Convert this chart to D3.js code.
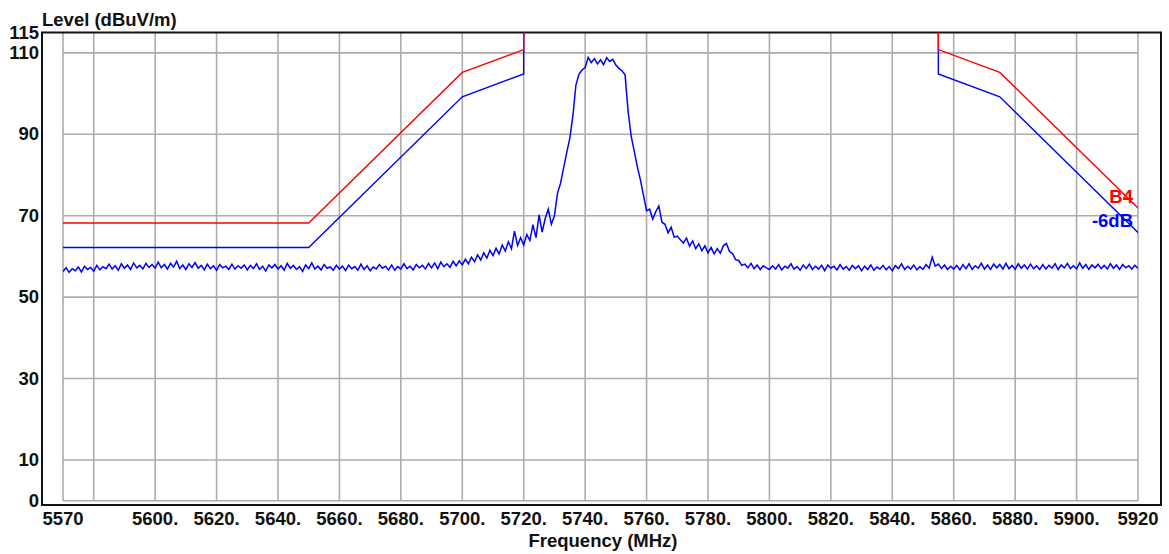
<!DOCTYPE html>
<html>
<head>
<meta charset="utf-8">
<script src="https://cdn.jsdelivr.net/npm/d3@7"></script>
<style>
    body { margin: 0; background: #fff; }
    text { font-family: "Liberation Sans", Arial, sans-serif; font-weight: bold; }
</style>
</head>
<body>
<div id="chart"></div>
<script>
// sweep from 5570 to 5920 MHz, one reading per MHz
const sweepStart = 5570;
const sweepStop = 5920;
const traceLevel = [
    // 5570 - 5599
    56.3, 57.2, 56.1, 57.0, 56.5, 57.4, 56.2, 57.6, 56.8, 57.3,
    56.4, 57.8, 56.7, 57.5, 57.0, 58.1, 56.9, 57.7, 56.6, 58.2,
    57.1, 57.9, 56.8, 58.4, 57.2, 57.8, 56.9, 58.3, 57.3, 58.0,
    // 5600 - 5629
    57.1, 58.6, 57.2, 58.0, 56.9, 58.3, 57.4, 58.8, 57.0, 57.9,
    56.8, 58.2, 57.3, 58.5, 57.1, 57.8, 56.7, 58.1, 57.0, 57.7,
    56.6, 58.0, 57.2, 57.6, 56.8, 58.1, 56.9, 57.7, 57.1, 57.9,
    // 5630 - 5659
    56.7, 57.8, 57.0, 58.2, 56.8, 57.6, 56.4, 57.9, 57.2, 58.0,
    56.9, 57.7, 56.6, 58.3, 57.1, 57.8, 56.8, 57.5, 56.3, 57.9,
    57.0, 58.4, 56.9, 57.6, 56.7, 58.0, 57.1, 57.4, 56.6, 57.8,
    // 5660 - 5689
    56.9, 57.6, 56.5, 57.9, 57.0, 57.5, 56.6, 58.1, 56.8, 57.7,
    56.5, 57.4, 56.9, 58.0, 57.1, 57.6, 56.7, 57.9, 56.6, 57.5,
    56.9, 58.2, 57.0, 57.6, 56.7, 58.0, 57.2, 57.8, 56.9, 58.3,
    // 5690 - 5699
    57.2, 58.4, 57.0, 58.6, 57.5, 58.2, 57.3, 58.8, 57.7, 58.9,
    // 5700 - 5719
    57.9, 59.3, 58.2, 59.8, 58.7, 60.4, 59.1, 60.9, 59.6, 61.5,
    60.2, 62.0, 60.6, 62.8, 61.3, 63.6, 61.9, 66.2, 62.7, 64.6,
    // 5720 - 5730
    62.8, 65.4, 63.9, 67.8, 64.6, 70.2, 66.0, 69.3, 71.6, 67.9, 70.0,
    // 5731 - 5760
    75.5, 78.0, 81.8, 85.5, 89.0, 94.5, 102.1, 104.8, 105.8, 106.4,
    108.9, 107.6, 108.6, 107.3, 108.3, 107.1, 108.8, 107.9, 108.4, 107.0,
    106.2, 105.6, 104.6, 95.5, 89.5, 85.8, 82.0, 78.8, 75.0, 71.2,
    // 5761 - 5799
    71.6, 69.2, 71.0, 72.4, 68.4, 67.9, 65.8, 67.2, 64.7, 65.0,
    64.1, 63.3, 64.5, 62.5, 63.8, 61.9, 63.1, 61.4, 62.6, 60.9,
    62.2, 60.6, 61.9, 60.8, 62.6, 63.2, 61.2, 60.7, 59.2, 59.0,
    57.8, 58.1, 57.2, 58.3, 57.0, 57.9, 56.8, 57.7, 57.2,
    // 5800 - 5829
    56.8, 57.7, 56.9, 58.0, 56.7, 57.6, 57.1, 58.2, 56.9, 57.5,
    56.6, 57.9, 57.0, 58.1, 56.8, 57.6, 56.9, 57.8, 56.5, 57.9,
    57.1, 57.6, 56.7, 58.0, 56.9, 57.5, 56.6, 57.8, 57.0, 57.7,
    // 5830 - 5859
    56.5, 57.6, 56.8, 57.9, 56.6, 57.4, 56.9, 57.8, 56.7, 57.5,
    56.5, 57.7, 57.0, 58.2, 56.8, 57.6, 56.9, 57.9, 56.7, 57.5,
    56.8, 58.0, 57.1, 59.8, 57.6, 58.1, 57.0, 57.9, 56.8, 57.6,
    // 5860 - 5889
    56.9, 57.8, 56.7, 58.0, 57.0, 58.2, 56.8, 57.7, 57.1, 58.3,
    56.9, 57.9, 56.8, 58.1, 57.2, 58.0, 56.9, 58.3, 57.0, 57.8,
    56.8, 58.2, 57.1, 57.9, 56.9, 58.1, 57.0, 57.7, 56.8, 58.0,
    // 5890 - 5920
    56.9, 57.8, 57.1, 58.2, 56.8, 57.9, 57.2, 58.3, 57.0, 57.7,
    56.9, 58.4, 57.1, 58.0, 56.8, 57.9, 57.2, 58.1, 57.0, 57.8,
    56.9, 58.2, 57.1, 57.9, 56.8, 58.0, 57.2, 57.7, 56.9, 57.8, 57.1
];

// limit line B4 (lower and upper band edge) and its -6dB copy
const limitLowFreq = [5570, 5650, 5700, 5720, 5720];
const limitLowB4 = [68.2, 68.2, 105.2, 110.8, 122.2];
const limitLowM6 = [62.2, 62.2, 99.2, 104.8, 116.2];
const limitHighFreq = [5855, 5855, 5875, 5925];
const limitHighB4 = [122.2, 110.8, 105.2, 68.2];
const limitHighM6 = [116.2, 104.8, 99.2, 62.2];

// ticks
const xGridValues = [5580, 5600, 5620, 5640, 5660, 5680, 5700, 5720, 5740, 5760, 5780, 5800, 5820, 5840, 5860, 5880, 5900, 5920];
const xTickValues = [5570, 5600, 5620, 5640, 5660, 5680, 5700, 5720, 5740, 5760, 5780, 5800, 5820, 5840, 5860, 5880, 5900, 5920];
const xTickLabels = ["5570", "5600.", "5620.", "5640.", "5660.", "5680.", "5700.", "5720.", "5740.", "5760.", "5780.", "5800.", "5820.", "5840.", "5860.", "5880.", "5900.", "5920"];
const yGridValues = [10, 30, 50, 70, 90, 110];
const yTickValues = [0, 10, 30, 50, 70, 90, 110, 115];

const width = 1169;
const height = 554;
const plot = { left: 63, right: 1138, top: 32.5, bottom: 500.7 };
const frame = { left: 42, right: 1161, top: 32.5, bottom: 505 };

const svg = d3.select("#chart")
    .append("svg")
    .attr("width", width)
    .attr("height", height);

const x = d3.scaleLinear()
    .domain([sweepStart, sweepStop])
    .range([plot.left, plot.right]);

const y = d3.scaleLinear()
    .domain([0, 115])
    .range([plot.bottom, plot.top]);

svg.append("defs").append("clipPath")
    .attr("id", "plotClip")
    .append("rect")
    .attr("x", plot.left)
    .attr("y", plot.top)
    .attr("width", plot.right - plot.left)
    .attr("height", plot.bottom - plot.top);

// grid
const grid = svg.append("g").attr("stroke", "#acacac").attr("stroke-width", 1.6);
grid.selectAll(".vgrid")
    .data(xGridValues.concat([sweepStart]))
    .join("line")
    .attr("x1", d => x(d)).attr("x2", d => x(d))
    .attr("y1", plot.top).attr("y2", plot.bottom);
grid.selectAll(".hgrid")
    .data(yGridValues.concat([0]))
    .join("line")
    .attr("x1", plot.left).attr("x2", plot.right)
    .attr("y1", d => y(d)).attr("y2", d => y(d));

// outer frame
svg.append("rect")
    .attr("x", frame.left)
    .attr("y", frame.top)
    .attr("width", frame.right - frame.left)
    .attr("height", frame.bottom - frame.top)
    .attr("fill", "none")
    .attr("stroke", "#111")
    .attr("stroke-width", 2);

const area = svg.append("g").attr("clip-path", "url(#plotClip)");

function drawLimit(freqs, levels, colour) {
    const pts = freqs.map((f, i) => [f, levels[i]]);
    area.append("path")
        .datum(pts)
        .attr("fill", "none")
        .attr("stroke", colour)
        .attr("stroke-width", 1.4)
        .attr("d", d3.line().x(d => x(d[0])).y(d => y(d[1])));
}

// -6dB first so the B4 line sits on top
drawLimit(limitLowFreq, limitLowM6, "#0000ff");
drawLimit(limitHighFreq, limitHighM6, "#0000ff");
drawLimit(limitLowFreq, limitLowB4, "#ff0000");
drawLimit(limitHighFreq, limitHighB4, "#ff0000");

// measured trace
const step = (sweepStop - sweepStart) / (traceLevel.length - 1);
area.append("path")
    .datum(traceLevel)
    .attr("fill", "none")
    .attr("stroke", "#0000ff")
    .attr("stroke-width", 1.5)
    .attr("d", d3.line().x((d, i) => x(sweepStart + i * step)).y(d => y(d)));

// limit labels
svg.append("text")
    .attr("x", 1133).attr("y", 203)
    .attr("text-anchor", "end")
    .attr("fill", "#ff0000")
    .style("font-size", "18.5px")
    .text("B4");
svg.append("text")
    .attr("x", 1133).attr("y", 227)
    .attr("text-anchor", "end")
    .attr("fill", "#0000ff")
    .style("font-size", "18.5px")
    .text("-6dB");

// y tick labels
svg.selectAll(".ylab")
    .data(yTickValues)
    .join("text")
    .attr("x", 39)
    .attr("y", d => y(d) + 6)
    .attr("text-anchor", "end")
    .attr("fill", "#111")
    .style("font-size", "18.5px")
    .text(d => d);

// x tick labels
svg.selectAll(".xlab")
    .data(xTickValues)
    .join("text")
    .attr("x", d => x(d))
    .attr("y", 525)
    .attr("text-anchor", "middle")
    .attr("fill", "#111")
    .style("font-size", "18.5px")
    .text((d, i) => xTickLabels[i]);

// axis titles
svg.append("text")
    .attr("x", 42).attr("y", 26)
    .attr("fill", "#111")
    .style("font-size", "18.5px")
    .text("Level (dBuV/m)");
svg.append("text")
    .attr("x", 603).attr("y", 547)
    .attr("text-anchor", "middle")
    .attr("fill", "#111")
    .style("font-size", "18.5px")
    .text("Frequency (MHz)");
</script>
</body>
</html>
